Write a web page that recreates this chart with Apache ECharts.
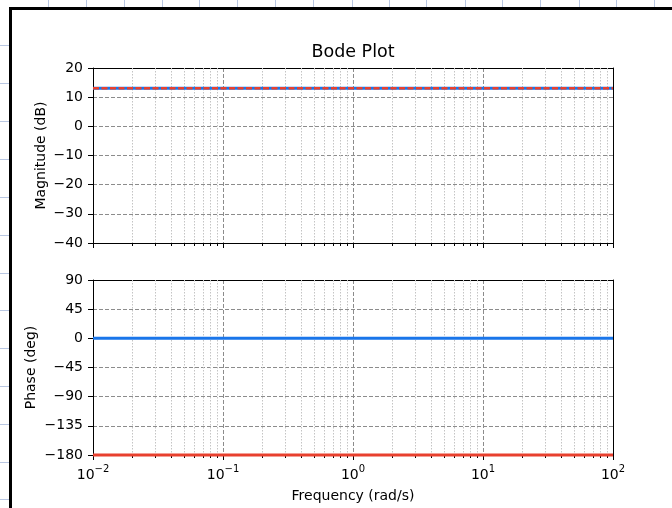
<!DOCTYPE html>
<html><head><meta charset="utf-8">
<script src="https://cdn.jsdelivr.net/npm/echarts@6/dist/echarts.min.js"></script>
<style>html,body{margin:0;padding:0;background:#fff}#c{width:672px;height:508px}</style>
</head><body><div id="c"></div>
<script>
// ---- data ----
const frequencies = [0.01, 0.1, 1, 10, 100];
const magnitudeBlue = [13.06, 13.06, 13.06, 13.06, 13.06];
const magnitudeRed = [13.06, 13.06, 13.06, 13.06, 13.06];
const phaseBlue = [0, 0, 0, 0, 0];
const phaseRed = [-180, -180, -180, -180, -180];
const magnitudeTicks = [-40, -30, -20, -10, 0, 10, 20];
const phaseTicks = [-180, -135, -90, -45, 0, 45, 90];
const frequencyTicks = [0.01, 0.1, 1, 10, 100];
const minorFrequencies = [0.02,0.03,0.04,0.05,0.06,0.07,0.08,0.09,
  0.2,0.3,0.4,0.5,0.6,0.7,0.8,0.9,
  2,3,4,5,6,7,8,9,
  20,30,40,50,60,70,80,90];
const titleText = 'Bode Plot';
const xName = 'Frequency (rad/s)';
const magName = 'Magnitude (dB)';
const phaseName = 'Phase (deg)';

// ---- styles ----
const FONT = 'DejaVu Sans';
const BLUE = '#1a76ea';
const RED = '#e8402e';
const minus = s => String(s).replace('-', '\u2212');

const chart = echarts.init(document.getElementById('c'), null, {renderer: 'canvas'});

function xAxisCfg(gridIndex, showLabels) {
  return {
    type: 'log', logBase: 10, gridIndex, position: 'bottom',
    min: frequencyTicks[0], max: frequencyTicks[frequencyTicks.length - 1],
    splitNumber: frequencyTicks.length - 1,
    axisLine: {show: true, onZero: false, lineStyle: {color: '#000', width: 1}},
    axisTick: {show: true, inside: false, length: 5, lineStyle: {color: '#000', width: 1}},
    axisLabel: {
      show: showLabels, margin: 9, color: '#000', fontFamily: FONT,
      formatter: v => {
        const e = Math.round(Math.log10(v));
        return '{b|10}{s|' + minus(e) + '}';
      },
      rich: {
        b: {fontSize: 14, fontFamily: FONT, color: '#000', padding: [4, 0, 0, 0]},
        s: {fontSize: 10, fontFamily: FONT, color: '#000', verticalAlign: 'top'}
      }
    },
    splitLine: {show: true, showMinLine: false, showMaxLine: false,
      lineStyle: {color: '#8c8c8c', width: 1, type: [4, 2]}},
    name: showLabels ? xName : '',
    nameLocation: 'middle', nameGap: 34, nameMoveOverlap: false,
    nameTextStyle: {fontSize: 14, fontFamily: FONT, color: '#000'}
  };
}
function xFrameCfg(gridIndex) {
  return {
    type: 'log', logBase: 10, gridIndex, position: 'top',
    min: frequencyTicks[0], max: frequencyTicks[frequencyTicks.length - 1],
    axisLine: {show: true, onZero: false, lineStyle: {color: '#000', width: 1}},
    axisTick: {show: false}, axisLabel: {show: false}, splitLine: {show: false}
  };
}

function yAxisCfg(gridIndex, ticks, name, gap) {
  return {
    type: 'value', gridIndex, position: 'left',
    min: ticks[0], max: ticks[ticks.length - 1], interval: ticks[1] - ticks[0],
    axisLine: {show: true, onZero: false, lineStyle: {color: '#000', width: 1}},
    axisTick: {show: true, inside: false, length: 5, lineStyle: {color: '#000', width: 1}},
    axisLabel: {margin: 10, fontSize: 14, fontFamily: FONT, color: '#000', formatter: v => minus(v)},
    splitLine: {show: true, showMinLine: false, showMaxLine: false,
      lineStyle: {color: '#8c8c8c', width: 1, type: [4, 2]}},
    name, nameLocation: 'middle', nameGap: gap, nameRotate: 90, nameMoveOverlap: false,
    nameTextStyle: {fontSize: 14, fontFamily: FONT, color: '#000'}
  };
}
function yFrameCfg(gridIndex, ticks) {
  return {
    type: 'value', gridIndex, position: 'right',
    min: ticks[0], max: ticks[ticks.length - 1], interval: ticks[1] - ticks[0],
    axisLine: {show: true, onZero: false, lineStyle: {color: '#000', width: 1}},
    axisTick: {show: false}, axisLabel: {show: false}, splitLine: {show: false}
  };
}

function minorSeries(idx) {
  return {
    type: 'custom', xAxisIndex: idx, yAxisIndex: idx, silent: true, clip: false, z: 1,
    data: minorFrequencies.map(f => [f, idx === 0 ? magnitudeTicks[0] : phaseTicks[0]]),
    renderItem: (params, api) => {
      const cs = params.coordSys;
      const x = Math.round(api.coord([api.value(0), api.value(1)])[0]) + 0.5;
      const yb = cs.y + cs.height;
      return {type: 'group', children: [
        {type: 'line', shape: {x1: x, y1: cs.y, x2: x, y2: yb},
          style: {stroke: '#c4c4c4', lineWidth: 1, lineDash: [1.5, 1.5]}},
        {type: 'line', shape: {x1: x, y1: yb, x2: x, y2: yb + 3},
          style: {stroke: '#000', lineWidth: 1}}
      ]};
    }
  };
}

const pair = (xs, ys) => xs.map((x, i) => [x, ys[i]]);

// decorative page background (sheet grid lines and frame)
const deco = [];
const sheetBlue = '#b9c7e2';
[45, 83, 121, 159, 197, 235, 273, 310, 348, 386, 424, 462, 499].forEach(y =>
  deco.push({type: 'line', shape: {x1: 0, y1: y + 0.5, x2: 9, y2: y + 0.5}, style: {stroke: sheetBlue, lineWidth: 1}}));
[48, 86, 124, 162, 199, 237, 275, 313, 352, 389, 426, 465, 502, 540, 579, 616, 654].forEach(x =>
  deco.push({type: 'line', shape: {x1: x + 0.5, y1: 0, x2: x + 0.5, y2: 7}, style: {stroke: sheetBlue, lineWidth: 1}}));
deco.push({type: 'rect', shape: {x: 9, y: 7, width: 3, height: 501}, style: {fill: '#000'}});
deco.push({type: 'rect', shape: {x: 9, y: 7, width: 663, height: 3}, style: {fill: '#000'}});
deco.push({type: 'text', x: 353, y: 52, style: {text: titleText, fontSize: 17.5, fontFamily: FONT, fill: '#000', align: 'center', verticalAlign: 'middle'}});

chart.setOption({
  animation: false,
  backgroundColor: '#fff',
  graphic: deco,
  grid: [
    {left: 93, top: 68, width: 520, height: 175},
    {left: 93, top: 280, width: 520, height: 175}
  ],
  xAxis: [xAxisCfg(0, false), xAxisCfg(1, true), xFrameCfg(0), xFrameCfg(1)],
  yAxis: [yAxisCfg(0, magnitudeTicks, magName, 45), yAxisCfg(1, phaseTicks, phaseName, 55),
          yFrameCfg(0, magnitudeTicks), yFrameCfg(1, phaseTicks)],
  series: [
    minorSeries(0), minorSeries(1),
    {type: 'line', xAxisIndex: 0, yAxisIndex: 0, data: pair(frequencies, magnitudeBlue), showSymbol: false, clip: false, z: 3,
      lineStyle: {color: BLUE, width: 3}},
    {type: 'line', xAxisIndex: 0, yAxisIndex: 0, data: pair(frequencies, magnitudeRed), showSymbol: false, clip: false, z: 4,
      lineStyle: {color: RED, width: 2.5, type: [6, 2.5]}},
    {type: 'line', xAxisIndex: 1, yAxisIndex: 1, data: pair(frequencies, phaseBlue), showSymbol: false, clip: false, z: 3,
      lineStyle: {color: BLUE, width: 3}},
    {type: 'line', xAxisIndex: 1, yAxisIndex: 1, data: pair(frequencies, phaseRed), showSymbol: false, clip: false, z: 4,
      lineStyle: {color: RED, width: 3}}
  ]
});
</script></body></html>
